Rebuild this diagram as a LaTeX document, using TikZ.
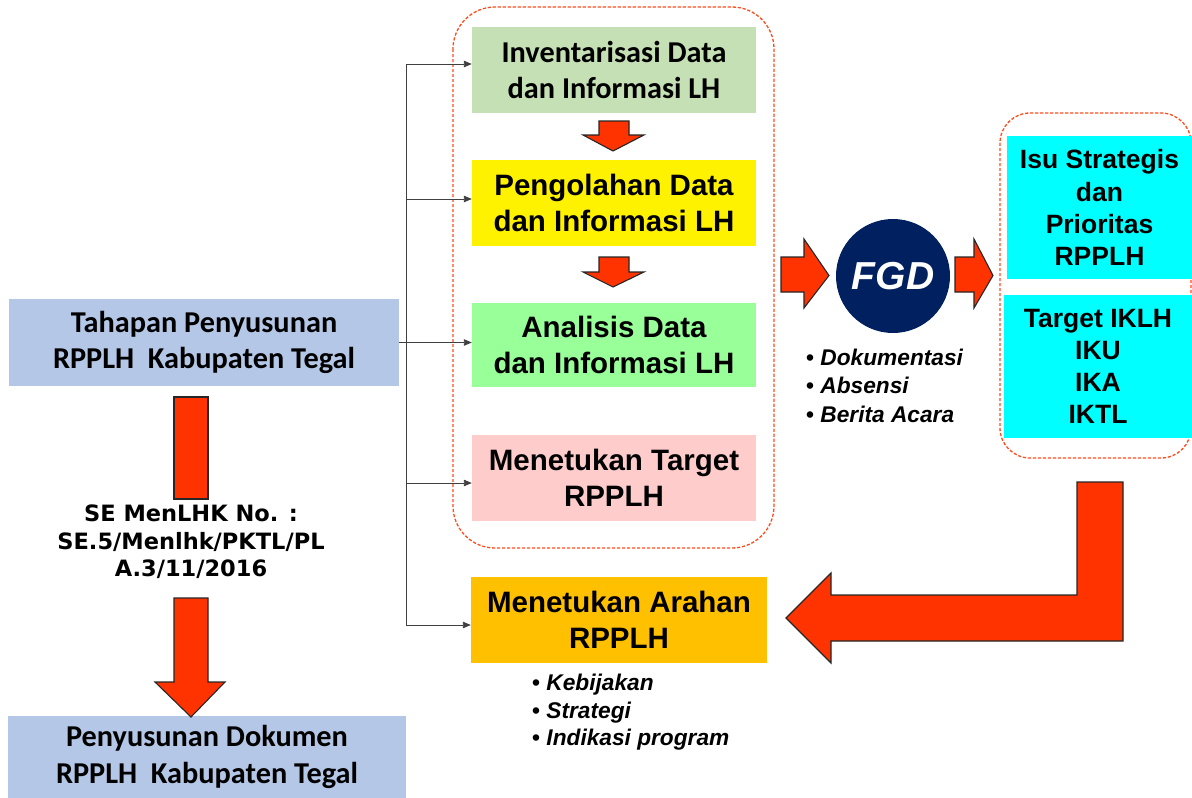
\documentclass[tikz,border=0pt]{standalone}
\usepackage{fontspec}
\usetikzlibrary{arrows.meta}
\newfontfamily\calfont{Carlito}
\newfontfamily\arfont{Liberation Sans}
\newfontfamily\dvfont{DejaVu Sans}
\definecolor{tahblue}{HTML}{B4C7E7}
\definecolor{invgreen}{HTML}{C5E0B4}
\definecolor{anagreen}{HTML}{99FF99}
\definecolor{tgtpink}{HTML}{FFCCCC}
\definecolor{arhorange}{HTML}{FFC000}
\definecolor{cyanbox}{HTML}{00FFFF}
\definecolor{navy}{HTML}{002060}
\definecolor{blockred}{HTML}{FF3300}
\definecolor{dashred}{HTML}{FF4A1A}
\tikzset{
  box/.style={rectangle, inner sep=0pt, align=center, text=black},
  calbox/.style={box, font=\calfont\bfseries\fontsize{30.3}{36.5}\selectfont},
  arbox/.style={box, font=\arfont\bfseries\fontsize{29.5}{36}\selectfont},
  cyanstyle/.style={box, fill=cyanbox, font=\arfont\bfseries\fontsize{26.5}{32.2}\selectfont},
  blockarrow/.style={fill=blockred, draw=black!85, line width=1.1pt, line join=miter},
  conn/.style={draw=black!75, line width=0.9pt},
  connarrow/.style={conn, -{Triangle[length=8pt,width=6.5pt]}},
  dashframe/.style={draw=dashred, line width=1.3pt, dash pattern=on 3.2pt off 1.8pt},
  bulletitem/.style={anchor=base west, inner sep=0pt, font=\arfont\bfseries\fontsize{22.7}{27}\selectfont},
}
\newcommand{\bul}[1]{\textbullet\ \textit{#1}}
\begin{document}
\begin{tikzpicture}[x=1pt,y=-1pt]
\useasboundingbox (0,0) rectangle (1192,798);

% dashed frames
\draw[dashframe, rounded corners=42pt] (453,7) rectangle (774,548);
\draw[dashframe, rounded corners=30pt] (1000,113) rectangle (1191,458);

% left column
\node[calbox, fill=tahblue, minimum width=390pt, minimum height=87pt] (tah) at (204,342.5)
  {Tahapan Penyusunan\\RPPLH~ Kabupaten Tegal};
\node[calbox, fill=tahblue, minimum width=398pt, minimum height=82pt] (pen) at (207,757)
  {Penyusunan Dokumen\\RPPLH~ Kabupaten Tegal};
\node[box, font=\dvfont\bfseries\fontsize{22.5}{27.5}\selectfont] (se) at (191,542)
  {SE MenLHK No. :\\SE.5/Menlhk/PKTL/PL\\A.3/11/2016};

% vertical block arrows on the left
\draw[blockarrow] (174,397) rectangle (208,499);
\draw[blockarrow] (174,598) -- (208,598) -- (208,682) -- (225,682) -- (191,717)
  -- (155,682) -- (174,682) -- cycle;

% middle column boxes
\node[calbox, fill=invgreen, minimum width=284pt, minimum height=86pt] (inv) at (614,70)
  {Inventarisasi Data\\dan Informasi LH};
\node[arbox, fill=yellow, minimum width=284pt, minimum height=86pt] (peng) at (614,203)
  {Pengolahan Data\\dan Informasi LH};
\node[arbox, fill=anagreen, minimum width=284pt, minimum height=84pt] (ana) at (614,345)
  {Analisis Data\\dan Informasi LH};
\node[arbox, fill=tgtpink, minimum width=284pt, minimum height=86pt] (tgt) at (614,478)
  {Menetukan Target\\RPPLH};
\node[arbox, fill=arhorange, minimum width=296pt, minimum height=86pt] (arh) at (619,620)
  {Menetukan Arahan\\RPPLH};

% small down arrows between boxes
\draw[blockarrow] (599,121) -- (629,121) -- (629,135) -- (644,135) -- (613,151)
  -- (583,135) -- (599,135) -- cycle;
\draw[blockarrow] (599,257) -- (629,257) -- (629,272) -- (644,272) -- (613,287)
  -- (583,272) -- (599,272) -- cycle;

% connectors
\coordinate (trtop) at (406,64);
\coordinate (tr2) at (406,199);
\coordinate (tr4) at (406,483);
\coordinate (trbot) at (406,625);
\draw[conn] (trtop) -- (trbot);
\draw[connarrow] (trtop) -- (inv.west |- trtop);
\draw[connarrow] (tr2) -- (peng.west |- tr2);
\draw[connarrow] (tah.east) -- (ana.west |- tah.east);
\draw[connarrow] (tr4) -- (tgt.west |- tr4);
\draw[connarrow] (trbot) -- (arh.west |- trbot);

% FGD
\node[circle, fill=navy, minimum size=114pt, inner sep=0pt, text=white,
  font=\arfont\bfseries\itshape\fontsize{39}{39}\selectfont] (fgd) at (893,276) {FGD};
\draw[blockarrow] (781,257) -- (804,257) -- (804,239) -- (829,275.5) -- (804,308)
  -- (804,292) -- (781,292) -- cycle;
\draw[blockarrow] (955,257) -- (974,257) -- (974,239) -- (993,275.5) -- (974,308)
  -- (974,292) -- (955,292) -- cycle;
\node[bulletitem] (b1) at (806,365) {\bul{Dokumentasi}};
\node[bulletitem] (b2) at (806,393) {\bul{Absensi}};
\node[bulletitem] (b3) at (806,422) {\bul{Berita Acara}};

% right boxes
\node[cyanstyle, minimum width=185pt, minimum height=143pt] (isu) at (1099.5,207.5)
  {Isu Strategis\\dan\\Prioritas\\RPPLH};
\node[cyanstyle, minimum width=188pt, minimum height=143pt] (iklh) at (1098,366.5)
  {Target IKLH\\IKU\\IKA\\IKTL};

% big L arrow
\draw[blockarrow] (1077,482) -- (1123,482) -- (1123,641) -- (831,641) -- (831,663)
  -- (786,618) -- (831,573) -- (831,595) -- (1077,595) -- cycle;

% Arahan bullets
\node[bulletitem] (c1) at (532,690) {\bul{Kebijakan}};
\node[bulletitem] (c2) at (532,718) {\bul{Strategi}};
\node[bulletitem] (c3) at (532,745) {\bul{Indikasi program}};
\end{tikzpicture}
\end{document}
